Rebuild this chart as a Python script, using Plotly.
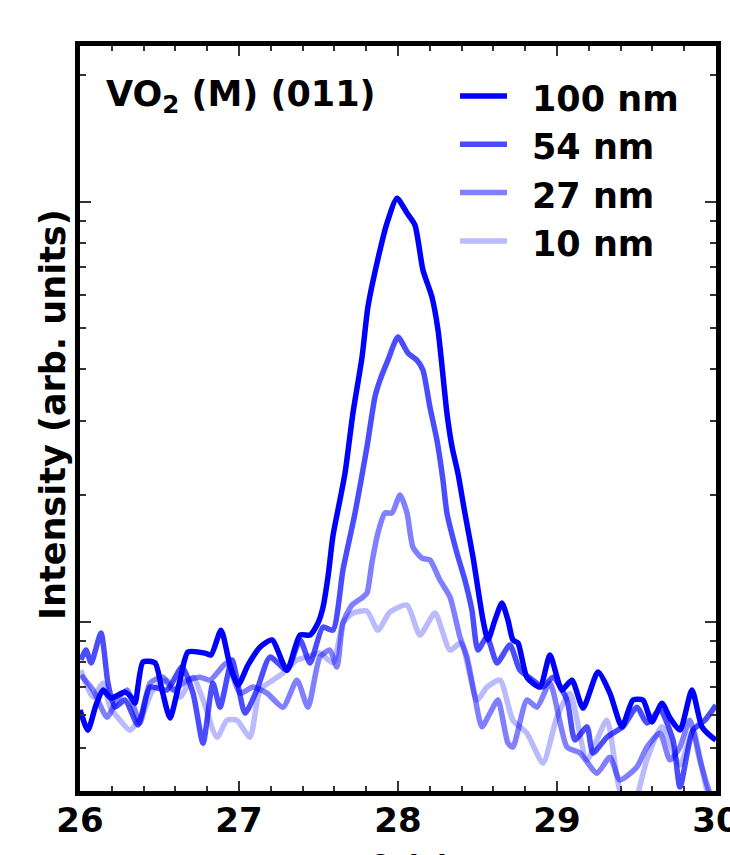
import plotly.graph_objects as go

# XRD scans around the VO2 (M) (011) reflection for four film thicknesses
labels = ["100 nm", "54 nm", "27 nm", "10 nm"]
colors = ["rgba(0,0,255,1.0)", "rgba(0,0,255,0.70)", "rgba(0,0,255,0.50)", "rgba(0,0,255,0.27)"]

tt_100 = [26.00, 26.05, 26.10, 26.145, 26.195, 26.283, 26.321, 26.346, 26.396, 26.472, 26.516,
          26.566, 26.629, 26.679, 26.786, 26.824, 26.887, 26.943, 26.994, 27.057, 27.132, 27.208,
          27.302, 27.384, 27.447, 27.497, 27.528, 27.560, 27.591, 27.635, 27.667, 27.717, 27.774,
          27.811, 27.868, 27.931, 27.994, 28.057, 28.107, 28.157, 28.214, 28.252, 28.308, 28.340,
          28.377, 28.421, 28.472, 28.535, 28.566, 28.610, 28.654, 28.692, 28.723, 28.755, 28.811,
          28.893, 28.956, 29.031, 29.094, 29.164, 29.258, 29.333, 29.409, 29.478, 29.541, 29.597,
          29.660, 29.711, 29.774, 29.849, 29.912, 29.975, 30.00]
int_100 = [61.6, 55.2, 63.3, 68.8, 65.8, 68.0, 66.2, 64.0, 80.2, 79.8, 68.8,
           59.0, 72.6, 84.7, 84.2, 83.3, 95.5, 78.9, 70.7, 78.9, 87.0, 90.5,
           76.7, 93.0, 93.0, 99.3, 108.0, 128.0, 160.0, 194.9, 225.9, 314.1, 426.8,
           561.6, 714.5, 890.0, 1020.0, 940.0, 880.0, 688.0, 593.0, 495.0, 314.0, 261.0,
           226.0, 181.5, 142.6, 100.9, 90.5, 100.9, 110.8, 100.9, 90.5, 89.0, 73.8,
           69.9, 83.3, 68.8, 72.6, 62.3, 75.9, 67.6, 56.2, 65.1, 65.1, 57.7,
           64.0, 59.0, 55.2, 68.8, 56.2, 53.1, 52.3]

tt_54 = [26.006, 26.038, 26.070, 26.132, 26.176, 26.220, 26.283, 26.365, 26.440, 26.547, 26.642,
         26.711, 26.774, 26.836, 26.881, 26.956, 27.038, 27.113, 27.195, 27.302, 27.384, 27.447,
         27.528, 27.591, 27.654, 27.730, 27.805, 27.855, 27.887, 27.937, 28.000, 28.063, 28.119,
         28.157, 28.201, 28.245, 28.283, 28.308, 28.371, 28.421, 28.465, 28.503, 28.560, 28.623,
         28.704, 28.767, 28.849, 28.912, 28.975, 29.063, 29.113, 29.189, 29.226, 29.314, 29.352,
         29.415, 29.503, 29.566, 29.648, 29.730, 29.774, 29.855, 29.931, 30.00]
int_54 = [81.1, 85.6, 79.8, 94.0, 71.4, 62.6, 65.1, 56.8, 69.9, 68.8, 78.0,
          67.6, 51.4, 71.4, 62.6, 81.1, 60.6, 68.8, 82.4, 76.7, 90.5, 79.8,
          97.1, 95.5, 132.8, 181.5, 260.6, 342.8, 376.3, 419.9, 476.3, 436.3, 419.9,
          397.5, 324.5, 270.8, 217.5, 181.5, 145.7, 125.7, 106.6, 85.6, 92.0, 79.8,
          88.0, 76.7, 72.6, 69.9, 73.8, 65.1, 52.3, 56.2, 48.7, 53.1, 54.3,
          56.2, 62.6, 57.4, 61.6, 52.3, 40.4, 55.2, 58.3, 63.3]

tt_27 = [26.006, 26.082, 26.170, 26.233, 26.296, 26.377, 26.440, 26.522, 26.585, 26.673, 26.755,
         26.818, 26.925, 27.006, 27.088, 27.176, 27.277, 27.365, 27.434, 27.509, 27.572, 27.616,
         27.654, 27.711, 27.780, 27.805, 27.836, 27.874, 27.918, 27.962, 28.013, 28.057, 28.094,
         28.151, 28.201, 28.264, 28.327, 28.390, 28.434, 28.484, 28.528, 28.579, 28.629, 28.692,
         28.723, 28.811, 28.874, 28.956, 29.063, 29.145, 29.252, 29.333, 29.396, 29.503, 29.566,
         29.648, 29.711, 29.774, 29.836, 29.899, 29.962, 30.00]
int_27 = [74.6, 68.8, 59.3, 65.1, 68.8, 57.4, 71.4, 73.8, 68.8, 72.6, 73.8,
          72.6, 79.8, 67.6, 69.9, 67.6, 62.6, 72.6, 62.6, 82.4, 85.6, 78.0,
          99.3, 109.6, 114.5, 117.0, 138.0, 162.6, 181.5, 181.5, 200.3, 181.5, 150.6,
          141.8, 140.3, 125.7, 114.5, 92.0, 82.4, 66.2, 56.2, 60.6, 65.1, 51.4,
          50.3, 65.1, 62.6, 71.4, 50.3, 48.7, 43.6, 47.6, 42.0, 45.1, 50.3,
          54.3, 46.9, 50.3, 58.3, 46.9, 39.1, 37.6]

tt_10 = [26.006, 26.082, 26.145, 26.189, 26.252, 26.314, 26.396, 26.459, 26.547, 26.629, 26.711,
         26.774, 26.862, 26.925, 26.987, 27.069, 27.132, 27.214, 27.277, 27.365, 27.428, 27.509,
         27.591, 27.654, 27.717, 27.805, 27.874, 27.950, 28.057, 28.138, 28.233, 28.327, 28.396,
         28.497, 28.560, 28.642, 28.723, 28.811, 28.912, 29.000, 29.082, 29.189, 29.314, 29.396,
         29.478, 29.566, 29.660, 29.774, 29.855, 29.943, 30.00]
int_10 = [76.7, 66.2, 71.4, 62.6, 58.3, 55.2, 60.6, 68.8, 72.6, 66.2, 73.8,
          65.1, 53.1, 58.3, 58.3, 53.1, 68.8, 72.6, 75.5, 81.1, 82.4, 84.2,
          79.8, 99.3, 104.9, 106.0, 95.5, 105.5, 109.6, 93.0, 104.9, 85.6, 89.0,
          65.1, 69.9, 72.6, 58.3, 54.3, 46.1, 59.3, 67.6, 46.9, 58.3, 39.7,
          36.6, 46.9, 56.2, 45.6, 55.2, 39.7, 35.6]

series = [(tt_100, int_100), (tt_54, int_54), (tt_27, int_27), (tt_10, int_10)]

x_ticks = [26, 27, 28, 29, 30]
y_major = [100, 1000]
y_minor = [50, 60, 70, 80, 90, 200, 300, 400, 500, 600, 700, 800, 900, 2000]

FONT = "DejaVu Sans"
W, H = 730, 855
L, R, T, B = 80, 14, 46, 64
PW, PH = W - L - R, H - T - B

fig = go.Figure()
for (tt, inten), name, col in zip(series, labels, colors):
    fig.add_trace(go.Scatter(
        x=tt, y=inten, mode="lines", name=name,
        line=dict(color=col, width=5.5, shape="spline", smoothing=0.6),
        showlegend=False,
    ))

def px_x(p):
    return (p - L) / PW

def px_y(p):
    return (H - B - p) / PH

# legend: line sample + bold label, stacked top-right
shapes = []
annotations = []
for i, (name, col) in enumerate(zip(labels, colors)):
    yy = 96 + 48.3 * i
    shapes.append(dict(type="line", xref="paper", yref="paper",
                       x0=px_x(460), x1=px_x(507), y0=px_y(yy), y1=px_y(yy),
                       line=dict(color=col, width=5.5)))
    annotations.append(dict(text=name, xref="paper", yref="paper",
                            x=px_x(530), y=px_y(yy + 3), xanchor="left", yanchor="middle",
                            showarrow=False,
                            font=dict(family=FONT, size=35, color="black", weight="bold")))

annotations.append(dict(text="VO<sub>2</sub> (M) (011)", xref="paper", yref="paper",
                        x=px_x(104), y=px_y(96), xanchor="left", yanchor="middle",
                        showarrow=False,
                        font=dict(family=FONT, size=35, color="black", weight="bold")))
annotations.append(dict(text="Intensity (arb. units)", xref="paper", yref="paper",
                        x=px_x(53), y=px_y(415), xanchor="center", yanchor="middle",
                        textangle=-90, showarrow=False,
                        font=dict(family=FONT, size=35, color="black", weight="bold")))
annotations.append(dict(text="2θ (°)", xref="paper", yref="paper",
                        x=px_x(398), y=px_y(846), xanchor="center", yanchor="top",
                        showarrow=False,
                        font=dict(family=FONT, size=34, color="black", weight="bold")))

fig.update_layout(
    width=W, height=H,
    margin=dict(l=L, r=R, t=T, b=B, autoexpand=False),
    paper_bgcolor="white", plot_bgcolor="white",
    shapes=shapes, annotations=annotations,
    showlegend=False,
)
fig.update_xaxes(
    range=[26, 30.0005], tickmode="array", tickvals=x_ticks,
    ticks="inside", ticklen=10, tickwidth=1.5, tickcolor="#333",
    minor=dict(dtick=0.2, tick0=26, ticks="inside", ticklen=5, tickwidth=1.5, tickcolor="#333"),
    showline=True, linewidth=5, linecolor="black", mirror="allticks",
    showgrid=False, zeroline=False, automargin=False,
    tickfont=dict(family=FONT, size=34, color="black", weight="bold"),
    ticklabelstandoff=-5, ticklabeloverflow="allow",
)
fig.update_yaxes(
    type="log", range=[1.597, 3.371], tickmode="array", tickvals=y_major,
    showticklabels=False,
    ticks="inside", ticklen=11, tickwidth=1.5, tickcolor="#333",
    minor=dict(tickmode="array", tickvals=y_minor, ticks="inside", ticklen=6,
               tickwidth=1.5, tickcolor="#333"),
    showline=True, linewidth=5, linecolor="black", mirror="allticks",
    showgrid=False, zeroline=False, automargin=False,
)

fig.write_html("out.html")
